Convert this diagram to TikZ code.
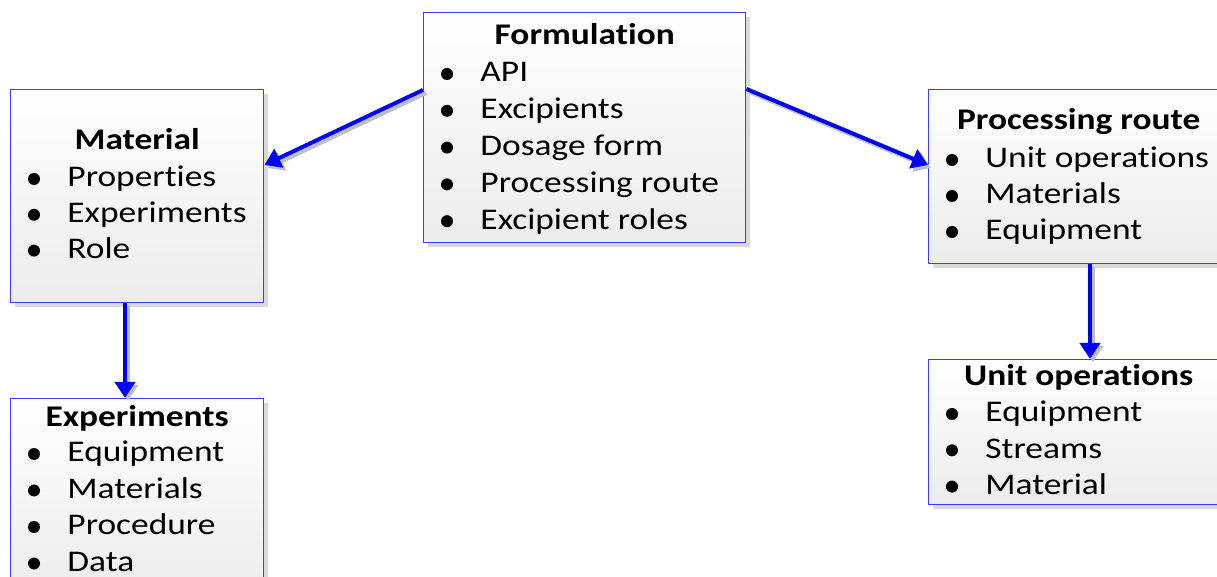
\documentclass[tikz,border=0pt]{standalone}
\usepackage{fontspec}
\setmainfont{Carlito}[Ligatures=NoCommon]
\usetikzlibrary{arrows.meta,calc,shadows}

\definecolor{boxblue}{RGB}{60,60,255}
\definecolor{boxgray}{RGB}{236,236,236}
\definecolor{linkblue}{RGB}{0,0,255}

\tikzset{
  box/.style={draw=boxblue, line width=0.7pt, anchor=north west,
    top color=white, bottom color=boxgray, inner sep=0pt,
    drop shadow={shadow xshift=2pt, shadow yshift=-2pt, fill=black, opacity=0.15}},
  boxtitle/.style={font=\fontsize{15}{18}\selectfont\bfseries, anchor=base, inner sep=0pt, xscale=1.18},
  boxitem/.style={font=\fontsize{15}{18}\selectfont, anchor=base west, inner sep=0pt, xscale=1.18},
  link/.style={draw=linkblue, line width=2pt, -{Triangle[length=8pt,width=10pt]}},
  linkshadow/.style={draw=black!25, line width=2pt, -{Triangle[length=8pt,width=10pt]},
    transform canvas={xshift=1.5pt,yshift=-1.5pt}},
}

% bullet rows inside a box: #1 box, #2 first baseline below the top, #3 row step, #4 entries
\newcommand\bulletrows[4]{%
  \foreach \entry [count=\k from 0] in {#4} {%
    \fill ($(#1.north west)+(24,#2+\k*#3-8)$) circle[radius=3pt];
    \node[boxitem] at ($(#1.north west)+(57,#2+\k*#3)$) {\entry};
  }%
}
% arrow with its soft shadow
\newcommand\linkarrow[2]{%
  \draw[linkshadow] #1 -- #2;
  \draw[link] #1 -- #2;
}

\begin{document}
\begin{tikzpicture}[x=0.5pt,y=-0.5pt]
  \useasboundingbox (0,0) rectangle (1217,577);
  \clip (0,0) rectangle (1217,577);

  % boxes
  \node[box, minimum width=161pt, minimum height=115pt] (form) at (423,12) {};
  \node[box, minimum width=126.5pt, minimum height=106.5pt] (mat) at (10,89) {};
  \node[box, minimum width=126.5pt, minimum height=100pt] (exp) at (10,398) {};
  \node[box, minimum width=150pt, minimum height=87pt] (proc) at (928,89) {};
  \node[box, minimum width=150pt, minimum height=72.5pt] (unit) at (928,359) {};

  % titles
  \node[boxtitle] (formT) at ($(form.north)+(0,33)$) {Formulation};
  \node[boxtitle] (matT) at ($(mat.north)+(0,61)$) {Material};
  \node[boxtitle] (expT) at ($(exp.north)+(0,29)$) {Experiments};
  \node[boxtitle] (procT) at ($(proc.north)+(0,41)$) {Processing route};
  \node[boxtitle] (unitT) at ($(unit.north)+(0,27)$) {Unit operations};

  % entries
  \bulletrows{form}{70}{36.8}{API,Excipients,Dosage form,Processing route,Excipient roles}
  \bulletrows{mat}{98}{35.8}{Properties,Experiments,Role}
  \bulletrows{exp}{64}{36.5}{Equipment,Materials,Procedure,Data}
  \bulletrows{proc}{79}{36}{Unit operations,Materials,Equipment}
  \bulletrows{unit}{63}{36.3}{Equipment,Streams,Material}

  % connectors
  \linkarrow{($(form.north west)+(0,78)$)}{($(mat.north east)+(0,76)$)}
  \linkarrow{($(form.north east)+(0,77)$)}{($(proc.north west)+(0,76)$)}
  \linkarrow{($(mat.south west)+(115,0)$)}{($(mat.south west |- exp.north)+(115,0)$)}
  \linkarrow{($(proc.south west)+(162,0)$)}{($(proc.south west |- unit.north)+(162,0)$)}
\end{tikzpicture}
\end{document}
